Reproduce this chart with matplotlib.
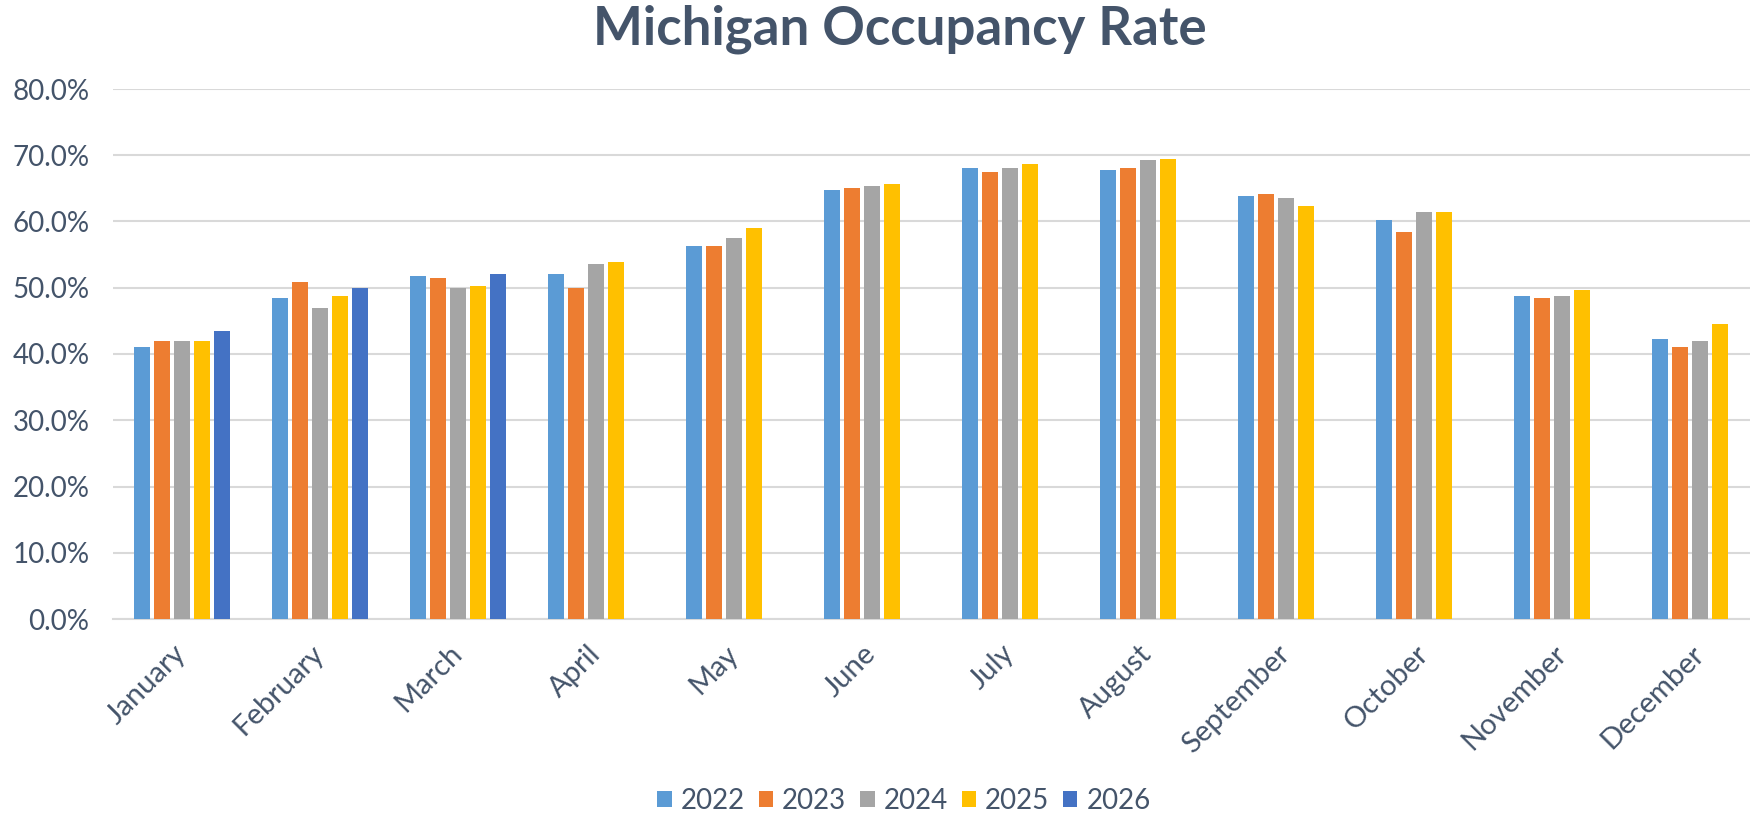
import matplotlib
matplotlib.use("Agg")
import matplotlib.pyplot as plt
import numpy as np
from matplotlib.ticker import FuncFormatter

months = ["January", "February", "March", "April", "May", "June", "July",
          "August", "September", "October", "November", "December"]
years = ["2022", "2023", "2024", "2025", "2026"]

occ_2022 = [41.0, 48.5, 51.8, 52.1, 56.3, 64.7, 68.1, 67.7, 63.9, 60.3, 48.8, 42.2]
occ_2023 = [41.9, 50.9, 51.5, 50.0, 56.3, 65.1, 67.5, 68.1, 64.1, 58.4, 48.5, 41.0]
occ_2024 = [41.9, 47.0, 50.0, 53.6, 57.5, 65.3, 68.1, 69.3, 63.5, 61.5, 48.8, 41.9]
occ_2025 = [41.9, 48.8, 50.3, 53.9, 59.0, 65.7, 68.7, 69.5, 62.3, 61.5, 49.7, 44.6]
occ_2026 = [43.4, 50.0, 52.1, None, None, None, None, None, None, None, None, None]

series = [occ_2022, occ_2023, occ_2024, occ_2025, occ_2026]
colors = ["#5B9BD5", "#ED7D31", "#A5A5A5", "#FFC000", "#4472C4"]

text_color = "#44546A"
grid_color = "#D9D9D9"
font = "Lato"

W, H = 1750, 815
fig = plt.figure(figsize=(W / 100, H / 100), dpi=100)

ax_left, ax_right = 113, 1769
ax_bottom, ax_top = 619, 89
ax = fig.add_axes([ax_left / W, (H - ax_bottom) / H,
                   (ax_right - ax_left) / W, (ax_bottom - ax_top) / H])

x = np.arange(len(months))
slot = 20 / 138
bar_w = 16.8 / 138
for i, (vals, c, yr) in enumerate(zip(series, colors, years)):
    offs = (i - 2) * slot
    xs = [xi + offs for xi, v in zip(x, vals) if v is not None]
    vs = [v / 100 for v in vals if v is not None]
    ax.bar(xs, vs, width=bar_w, color=c, label=yr, zorder=3, linewidth=0)

ax.set_xlim(-0.5, len(months) - 0.5)
ax.set_ylim(0, 0.8)
ax.set_yticks(np.arange(0, 0.81, 0.1))
ax.yaxis.set_major_formatter(FuncFormatter(lambda v, p: f"{v*100:.1f}%"))
ax.grid(axis="y", color=grid_color, linewidth=1.5, zorder=0)
ax.set_axisbelow(True)
for s in ["top", "right", "left"]:
    ax.spines[s].set_visible(False)
ax.spines["bottom"].set_color(grid_color)
ax.spines["bottom"].set_linewidth(1.5)
ax.tick_params(axis="both", length=0, colors=text_color)
ax.tick_params(axis="y", pad=17, labelsize=20)
ax.set_xticks(x)
ax.set_xticklabels(months, rotation=45, ha="right", va="center",
                   rotation_mode="anchor", fontfamily=font, fontsize=21)
ax.tick_params(axis="x", pad=22)
for lab in ax.get_yticklabels():
    lab.set_fontfamily(font)

fig.text(900 / W, 1 - 29 / H, "Michigan Occupancy Rate", ha="center", va="center",
         fontsize=38, fontweight="bold", color=text_color, fontfamily=font)

leg = fig.legend(loc="center", bbox_to_anchor=(904 / W, 14 / H), ncol=5,
                 frameon=False, prop={"family": font, "size": 20},
                 handlelength=0.52, handleheight=0.52, handletextpad=0.32,
                 columnspacing=0.5)
for t in leg.get_texts():
    t.set_color(text_color)

fig.savefig("out.png", dpi=100)
